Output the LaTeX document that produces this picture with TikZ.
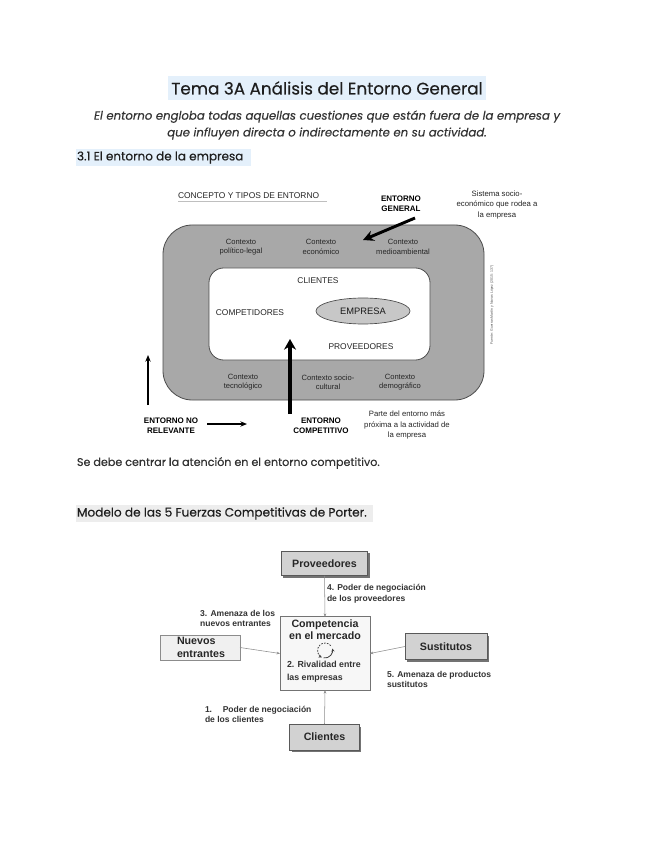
\documentclass[tikz,border=0pt]{standalone}
\usepackage{fontspec}
\setmainfont{Poppins}[FakeBold=0.35]
\newfontfamily\dfont{Liberation Sans}
\usetikzlibrary{arrows.meta,shapes.geometric}
\definecolor{hlblue}{HTML}{E4F0FB}
\definecolor{hlgrey}{HTML}{EDEDED}
\definecolor{txt}{HTML}{1E1E1E}
\definecolor{ringgrey}{HTML}{A8A8A8}
\definecolor{boxgrey}{HTML}{D2D2D2}
\begin{document}
\begin{tikzpicture}[x=0.75pt,y=-0.75pt,
  every node/.style={inner sep=0pt,outer sep=0pt,text=txt},
  ctx/.style={font=\dfont\fontsize{5.7}{7}\selectfont,align=center,text=black!85},
  lbl/.style={font=\dfont\fontsize{6.3}{7.5}\selectfont,align=center,text=black!85},
  bold1/.style={font=\dfont\bfseries\fontsize{6}{7.5}\selectfont,align=center,text=black},
  pbox/.style={draw=black!65,fill=boxgrey,line width=0.6pt,font=\dfont\bfseries\fontsize{8}{9.5}\selectfont,text=black!85},
  plab/.style={font=\dfont\bfseries\fontsize{6.4}{8}\selectfont,text=black!80,align=left},
  thin/.style={draw=black!45,line width=0.4pt,-{Stealth[length=2.5pt,width=2pt]}}
]
\useasboundingbox (0,0) rectangle (655,848);
\fill[white] (0,0) rectangle (655,848);

% ---- header texts
\fill[hlblue] (168,76) rectangle (486,100);
\node (title) at (327,88) {\fontsize{12.6}{14}\selectfont Tema 3A Análisis del Entorno General};
\node (sub) at (327,125) [align=center,font=\itshape\fontsize{8.8}{12.6}\selectfont,text=black!80]
  {El entorno engloba todas aquellas cuestiones que están fuera de la empresa y\\que influyen directa o indirectamente en su actividad.};
\fill[hlblue] (76,149) rectangle (251,166);
\node (sec) at (77,157.5) [anchor=west,font=\fontsize{9}{10}\selectfont] {3.1 El entorno de la empresa};

% ---- diagram 1
\node (concept) at (178,196) [anchor=west,lbl] {CONCEPTO Y TIPOS DE ENTORNO};
\draw[black!25,line width=0.5pt] (178,201.5) -- (327,201.5);
\node (eg) at (401,204) [bold1] {ENTORNO\\GENERAL};
\node (sist) at (497,205) [ctx,font=\dfont\fontsize{5.8}{7.6}\selectfont] {Sistema socio-\\económico que rodea a\\la empresa};
\draw[fill=ringgrey,draw=black!70,line width=0.6pt,rounded corners=22pt] (163,225) rectangle (484,400);
\draw[fill=white,draw=black!70,line width=0.6pt,rounded corners=11pt] (209,268) rectangle (430,360);
\node (c1) at (241,247) [ctx] {Contexto\\político-legal};
\node (c2) at (321,247) [ctx] {Contexto\\económico};
\node (c3) at (403,247) [ctx] {Contexto\\medioambiental};
\node (c4) at (243,382) [ctx] {Contexto\\tecnológico};
\node (c5) at (328,382) [ctx] {Contexto socio-\\cultural};
\node (c6) at (400,382) [ctx] {Contexto\\demográfico};
\node (cli) at (318,281) [lbl] {CLIENTES};
\node (comp) at (250,313) [lbl] {COMPETIDORES};
\node (emp) at (363,311) [ellipse,draw=black!70,fill=black!22,line width=0.5pt,minimum width=70.5pt,minimum height=19.5pt,lbl,font=\dfont\fontsize{7}{8}\selectfont,text=black!90] {EMPRESA};
\node (prov) at (361,347) [lbl] {PROVEEDORES};
\node (fuente) at (492,305) [rotate=90,font=\dfont\fontsize{2.6}{3}\selectfont,text=black!70] {Fuente: Guerras Martín y Navas López (2015: 137)};
\coordinate (egtip) at (363,240);
\draw[line width=2.2pt,-{Stealth[length=8pt,width=8pt]}] (415,218) -- (egtip);
\node (enr) at (171,426) [bold1] {ENTORNO NO\\RELEVANTE};
\node (ec) at (321,426) [bold1] {ENTORNO\\COMPETITIVO};
\node (parte) at (407,425) [ctx,font=\dfont\fontsize{5.8}{8}\selectfont] {Parte del entorno más\\próxima a la actividad de\\la empresa};
\coordinate (up1a) at (148,405);
\coordinate (up1b) at (148,355);
\draw[line width=1pt,-{Stealth[length=5pt,width=4pt]}] (up1a) -- (up1b);
\coordinate (ra) at (207,424);
\coordinate (rb) at (247,424);
\draw[line width=1pt,-{Stealth[length=5pt,width=4pt]}] (ra) -- (rb);
\coordinate (bigA) at (290,414);
\coordinate (bigB) at (290,339);
\draw[line width=2.4pt,-{Stealth[length=8pt,width=9pt]}] (bigA) -- (bigB);

% ---- body texts
\node (centrar) at (77,463) [anchor=west,font=\fontsize{8.35}{10}\selectfont,text=black!80] {Se debe centrar la atención en el entorno competitivo.};
\fill[hlgrey] (76,505) rectangle (373,522);
\node (modelo) at (77,513.5) [anchor=west,font=\fontsize{9.1}{10}\selectfont] {Modelo de las 5 Fuerzas Competitivas de Porter.};

% ---- Porter
\fill[black!55] (283,553) rectangle (370,578);
\node (pprov) at (324.5,563.5) [pbox,minimum width=65pt,minimum height=18.5pt] {Proveedores};
\fill[black!55] (407,636) rectangle (489,662);
\node (sust) at (446,646.5) [pbox,minimum width=61.5pt,minimum height=19.5pt] {Sustitutos};
\fill[black!55] (292,727) rectangle (361,752);
\node (pcli) at (324.5,737) [pbox,minimum width=52pt,minimum height=19.5pt] {Clientes};
\node (nuev) at (200,647.5) [draw=black!45,fill=black!6,line width=0.5pt,minimum width=60pt,minimum height=19pt] {};
\node (nuevt) at (177,647.5) [anchor=west,align=left,font=\dfont\bfseries\fontsize{8}{9.5}\selectfont,text=black!85] {Nuevos\\entrantes};
\node (mkt) at (325,653.5) [draw=black!55,fill=black!3,line width=0.6pt,minimum width=67.5pt,minimum height=55pt] {};
\node (mktt) at (325,630) [align=center,font=\dfont\bfseries\fontsize{8}{9}\selectfont,text=black!85] {Competencia\\en el mercado};
\node (riv) at (287,671.5) [anchor=west,plab,font=\dfont\bfseries\fontsize{6.6}{9.5}\selectfont] {2. Rivalidad entre\\las empresas};
\coordinate (cyc) at (325,650.5);
\draw[black!75,line width=0.6pt,-{Stealth[length=2.5pt,width=2.5pt]}] ([shift={(100:7.5)}]cyc) arc[start angle=100,end angle=-15,radius=7.5];
\draw[black!75,line width=0.6pt,dash pattern=on 1.2pt off 1pt,-{Stealth[length=2.5pt,width=2.5pt]}] ([shift={(-40:7.5)}]cyc) arc[start angle=-40,end angle=-245,radius=7.5];
\node (l4) at (327,593.5) [anchor=west,plab] {4. Poder de negociación\\de los proveedores};
\node (l3) at (275,618.5) [anchor=east,plab,align=left] {3. Amenaza de los\\nuevos entrantes};
\node (l5) at (387,679.5) [anchor=west,plab] {5. Amenaza de productos\\sustitutos};
\node (l1) at (205,714.5) [anchor=west,plab] {1.\hspace{8pt}Poder de negociación\\de los clientes};
\draw[thin] (pprov.south) -- (mkt.north);
\draw[thin] (nuev.east) -- (mkt.west);
\draw[thin] (sust.west) -- (mkt.east);
\draw[thin] (pcli.north) -- (mkt.south);
\end{tikzpicture}
\end{document}
